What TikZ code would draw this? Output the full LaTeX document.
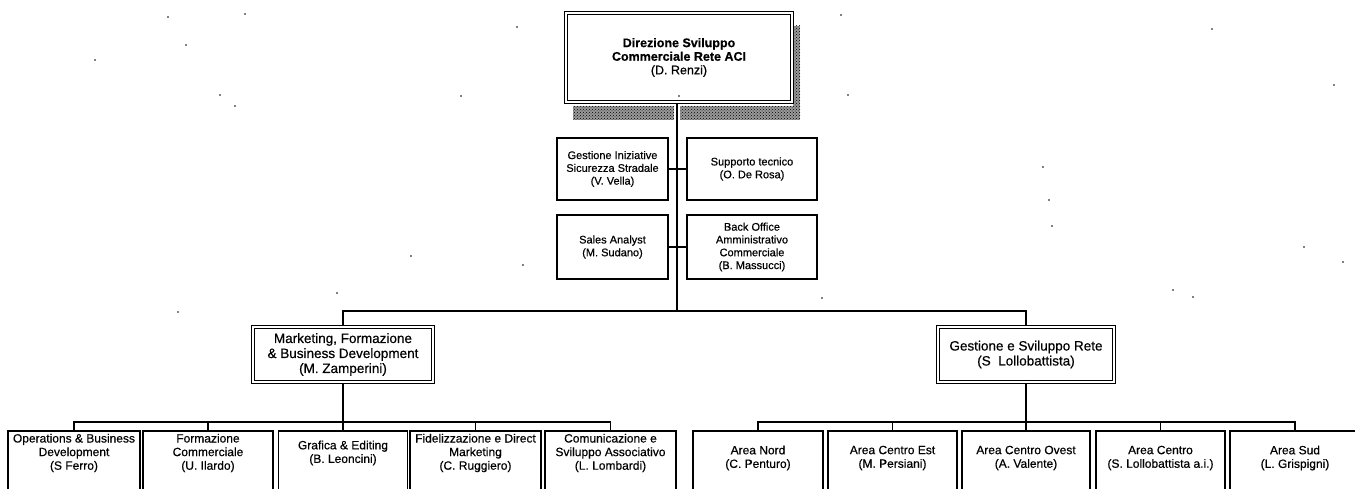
\documentclass[tikz,border=0pt]{standalone}
\usepackage{fontspec}
\setmainfont{Liberation Sans}[FakeBold=0.5]
\usetikzlibrary{patterns}
\begin{document}
\begin{tikzpicture}[x=1pt,y=-1pt,
  box/.style={draw=black, line width=1.9pt, rectangle, inner sep=0pt, align=center},
  headbox/.style={draw=black, rectangle, inner sep=0pt, align=center,
    double, double distance=1.8pt, line width=1.3pt},
  staff/.style={box, font=\fontsize{11}{12.8}\selectfont},
  leaf/.style={box, minimum height=66pt},
  leaftext/.style={inner sep=0pt, align=center, font=\fontsize{12}{13.6}\selectfont},
  mid/.style={headbox, minimum width=180pt, minimum height=55pt,
    font=\fontsize{13.5}{15}\selectfont},
  conn/.style={draw=black, line width=1.9pt},
  speck/.style={fill=black, inner sep=0pt, minimum size=1.6pt, circle},
  noise/.style={fill=black!40, postaction={pattern=crosshatch dots, pattern color=black}}
]
\useasboundingbox (0,0) rectangle (1355,489);
\clip (0,0) rectangle (1355,489);

% scanned stamp strips beside the head box
\path[noise] (793,26) rectangle (800,118);
\path[noise] (573,106) rectangle (674,120);
\path[noise] (680,106) rectangle (800,120);

% head of the direction
\node[headbox, fill=white, minimum width=226pt, minimum height=89pt,
      font=\fontsize{12.5}{13.6}\selectfont] (dir) at (679,57.5)
  {\textbf{Direzione Sviluppo}\\\textbf{Commerciale Rete ACI}\\(D. Renzi)};
\node[speck] (dirdot) at (679,96) {};

% staff units
\node[staff, minimum width=111pt, minimum height=62pt] (gis) at (612.5,169)
  {Gestione Iniziative\\Sicurezza Stradale\\(V. Vella)};
\node[staff, minimum width=130pt, minimum height=62pt] (sup) at (752,169)
  {Supporto tecnico\\(O. De Rosa)};
\node[staff, minimum width=111pt, minimum height=64pt] (sal) at (612.5,247)
  {Sales Analyst\\(M. Sudano)};
\node[staff, minimum width=130pt, minimum height=64pt] (bo) at (752,247)
  {Back Office\\Amministrativo\\Commerciale\\(B. Massucci)};

% second level
\node[mid] (mkt) at (343,354.5)
  {Marketing, Formazione\\\& Business Development\\(M. Zamperini)};
\node[mid, minimum width=176pt] (gsr) at (1026,354.5)
  {Gestione e Sviluppo Rete\\(S~ Lollobattista)};

% left branch units
\node[leaf, minimum width=132pt] (l1) at (74,464) {};
\node[leaf, minimum width=130pt] (l2) at (208,464) {};
\node[leaf, minimum width=129pt] (l3) at (343,464) {};
\node[leaf, minimum width=131pt] (l4) at (475.5,464) {};
\node[leaf, minimum width=131pt] (l5) at (610.5,464) {};
\node[leaftext] (l1t) at (74,453) {Operations \& Business\\Development\\(S Ferro)};
\node[leaftext] (l2t) at (208,453) {Formazione\\Commerciale\\(U. Ilardo)};
\node[leaftext] (l3t) at (343,453) {Grafica \& Editing\\(B. Leoncini)};
\node[leaftext] (l4t) at (475.5,453) {Fidelizzazione e Direct\\Marketing\\(C. Ruggiero)};
\node[leaftext] (l5t) at (610.5,453) {Comunicazione e\\Sviluppo Associativo\\(L. Lombardi)};

% right branch units
\node[leaf, minimum width=130pt] (r1) at (758,464) {};
\node[leaf, minimum width=129pt] (r2) at (892.5,464) {};
\node[leaf, minimum width=128pt] (r3) at (1026,464) {};
\node[leaf, minimum width=129pt] (r4) at (1160.5,464) {};
\node[leaf, minimum width=130pt] (r5) at (1295,464) {};
\node[leaftext] (r1t) at (758,458) {Area Nord\\(C. Penturo)};
\node[leaftext] (r2t) at (892.5,458) {Area Centro Est\\(M. Persiani)};
\node[leaftext] (r3t) at (1026,458) {Area Centro Ovest\\(A. Valente)};
\node[leaftext] (r4t) at (1160.5,458) {Area Centro\\(S. Lollobattista a.i.)};
\node[leaftext] (r5t) at (1295,458) {Area Sud\\(L. Grispigni)};

% connectors
\coordinate (trunk) at (677,311);
\draw[conn] (dir.south -| trunk) -- (trunk);
\draw[conn] (gis.east) -- (sup.west);
\draw[conn] (sal.east) -- (bo.west);
\draw[conn] (mkt.north) |- (trunk) -| (gsr.north);

\draw[conn] (mkt.south) -- (l3.north);
\draw[conn] (l1.north) -- ++(0,-8) -| (l5.north);
\draw[conn] (l2.north) -- ++(0,-8);
\draw[conn] (l4.north) -- ++(0,-8);

\draw[conn] (gsr.south) -- (r3.north);
\draw[conn] (r1.north) -- ++(0,-8) -| (r5.north);
\draw[conn] (r2.north) -- ++(0,-8);
\draw[conn] (r4.north) -- ++(0,-8);

% stray specks of the scan
\foreach \p [count=\i] in {(168,17),(245,14),(95,60),(186,45),(220,95),(235,106),
  (461,96),(517,27),(411,256),(523,265),(178,312),(337,293),(841,15),(848,95),
  (1043,167),(1049,200),(1052,226),(1212,29),(1334,85),(1304,247),(1343,262),
  (1173,290),(1193,297),(822,298)}
  \node[speck] (s\i) at \p {};
\end{tikzpicture}
\end{document}
